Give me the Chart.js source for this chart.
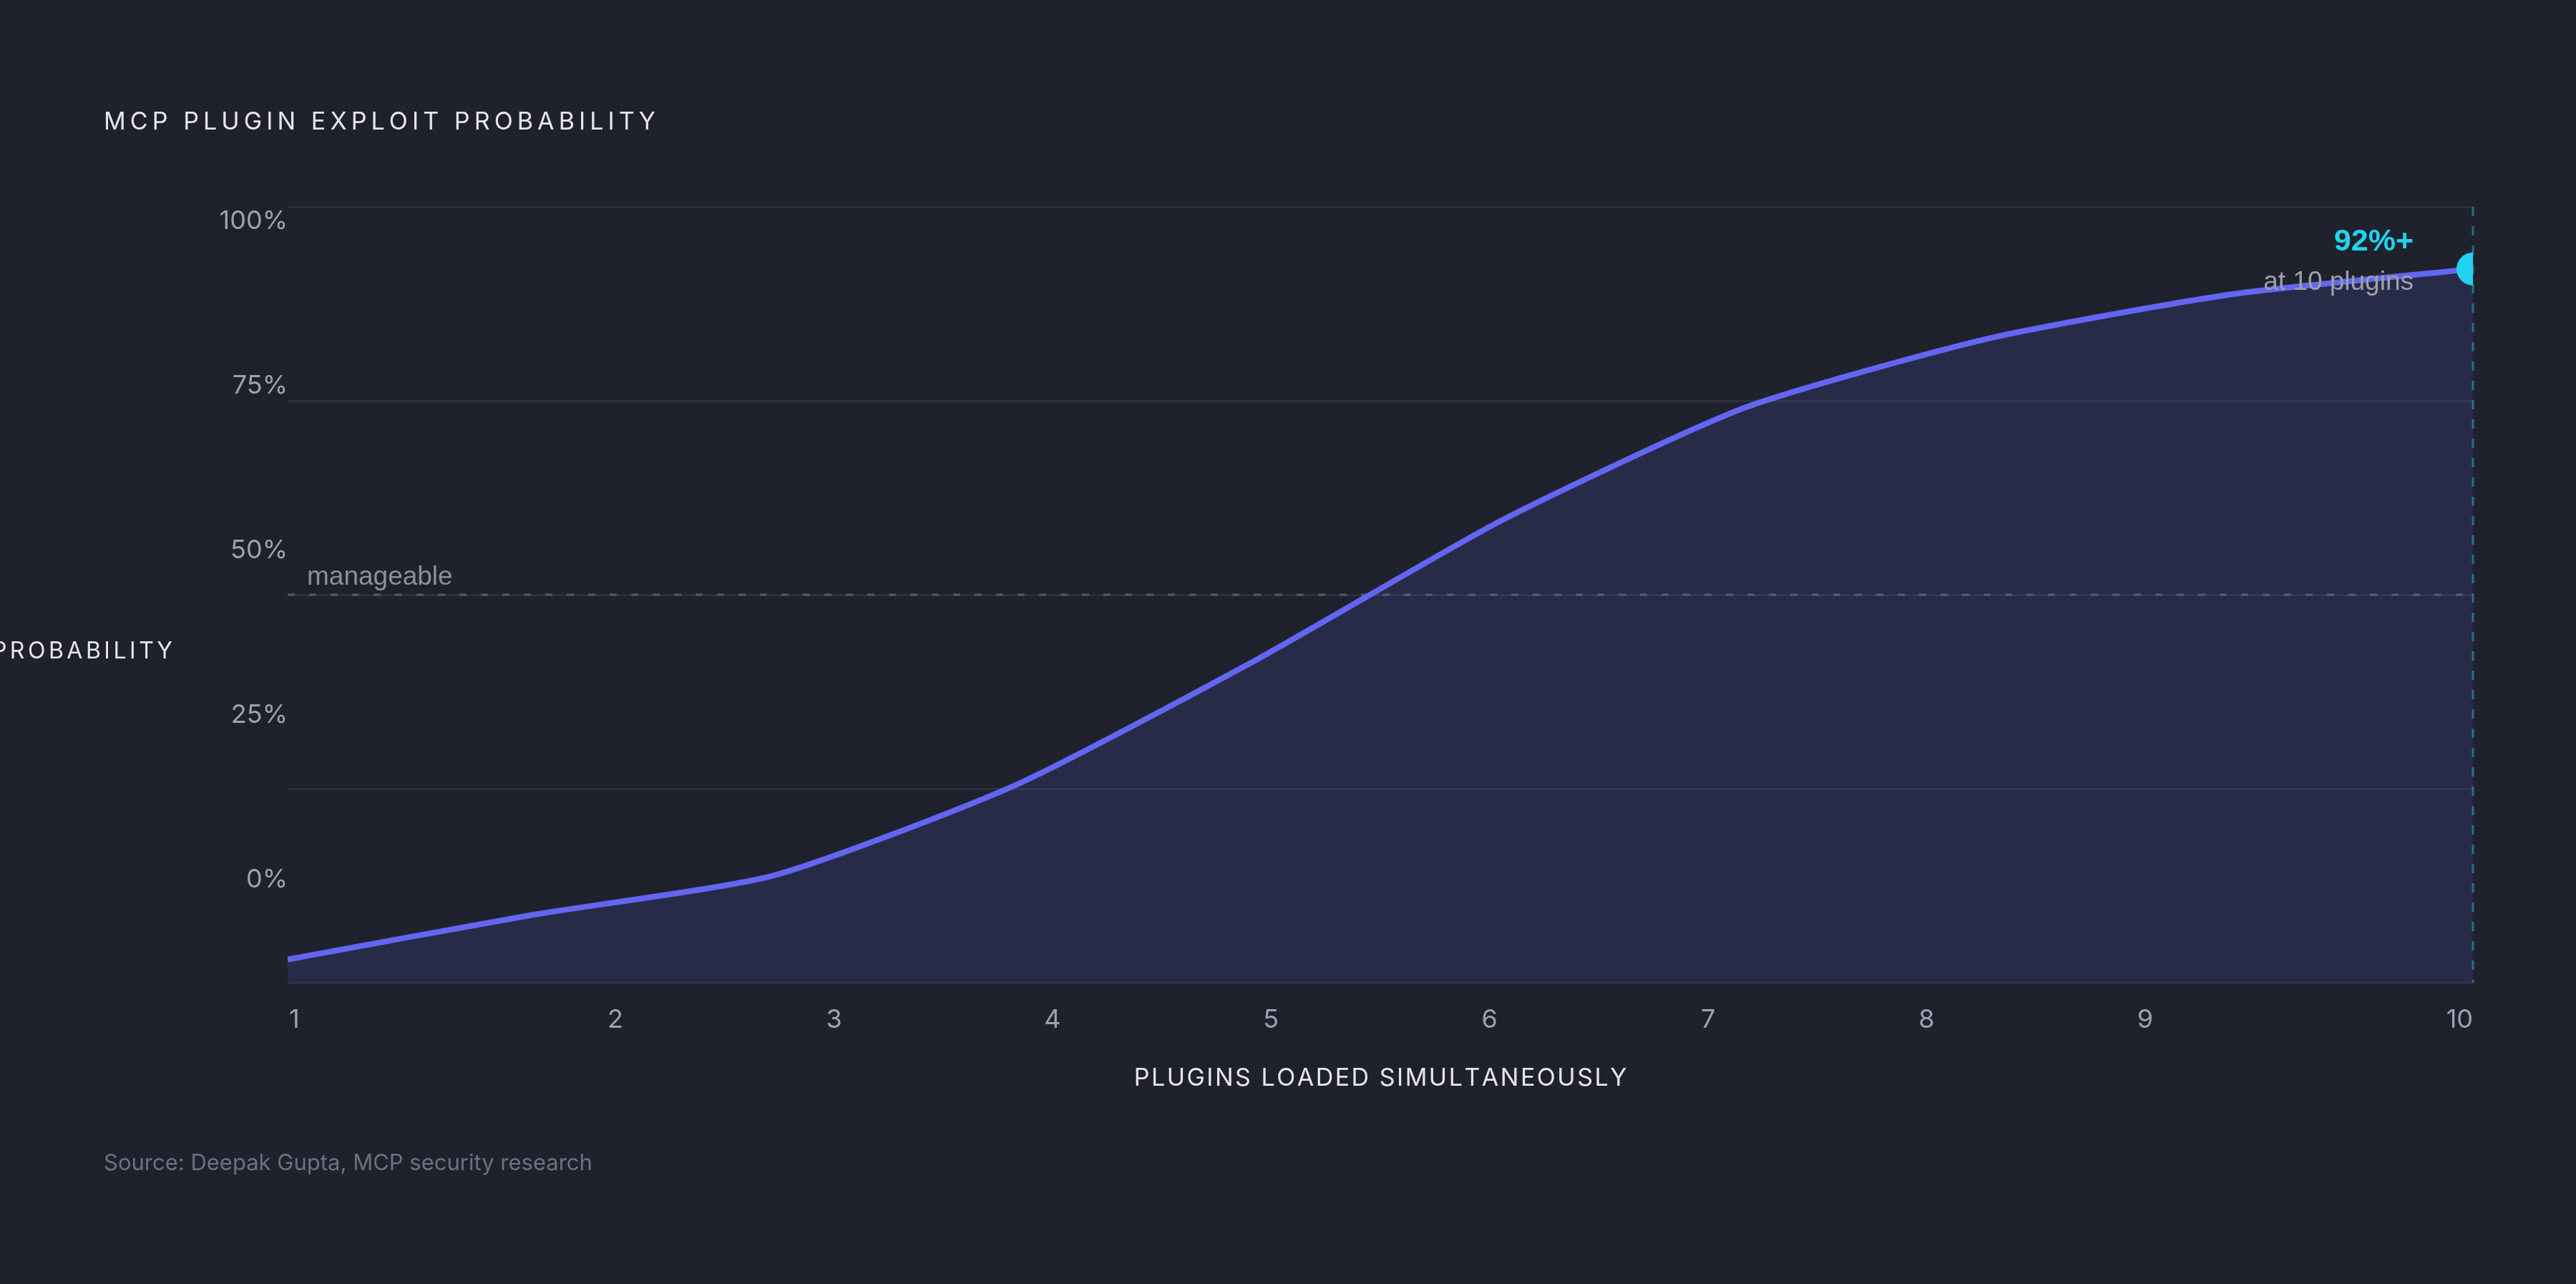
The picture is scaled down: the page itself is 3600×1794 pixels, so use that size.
<!DOCTYPE html>
<html lang="en">
<head>
<meta charset="UTF-8">
<title>MCP plugin exploit probability</title>
<script src="https://cdn.jsdelivr.net/npm/chart.js"></script>
<style>
  html, body { margin: 0; padding: 0; background: #1f222d; }
  #wrap { width: 3600px; height: 1794px; position: relative; }
</style>
</head>
<body>
<div id="wrap"><canvas id="chart"></canvas></div>
<script>
// data
const pluginCounts = [1, 2, 3, 4, 5, 6, 7, 8, 9, 10];
const exploitProbability = [3, 8.7, 13.8, 25.5, 41.8, 59.6, 74.1, 83.0, 88.7, 92];
const yTickLabels = ['100%', '75%', '50%', '25%', '0%'];
const xTickLabels = ['1', '2', '3', '4', '5', '6', '7', '8', '9', '10'];
const thresholdValue = 50;
const thresholdLabel = 'manageable';
const calloutValue = '92%+';
const calloutNote = 'at 10 plugins';
const chartTitle = 'MCP PLUGIN EXPLOIT PROBABILITY';
const xTitle = 'PLUGINS LOADED SIMULTANEOUSLY';
const yTitle = 'PROBABILITY';
const sourceNote = 'Source: Deepak Gupta, MCP security research';

const SANS = 'Inter, "Noto Sans", sans-serif';
const ARIAL = '"Liberation Sans", Arial, sans-serif';

// text with letter spacing, drawn char by char
function spaced(ctx, text, x, y, gap, align) {
  let w = 0;
  for (const ch of text) w += ctx.measureText(ch).width + gap;
  w -= gap;
  let cx = align === 'center' ? x - w / 2 : align === 'right' ? x - w : x;
  ctx.textAlign = 'left';
  for (const ch of text) {
    ctx.fillText(ch, cx, y);
    cx += ctx.measureText(ch).width + gap;
  }
}

const decor = {
  id: 'decor',
  beforeDatasetsDraw(chart) {
    const { ctx, chartArea: a, scales: { y } } = chart;
    ctx.save();
    // threshold line
    const ty = y.getPixelForValue(thresholdValue);
    ctx.strokeStyle = '#555a69';
    ctx.lineWidth = 3;
    ctx.setLineDash([10, 20]);
    ctx.beginPath(); ctx.moveTo(a.left, ty); ctx.lineTo(a.right, ty); ctx.stroke();
    ctx.setLineDash([]);
    ctx.font = '37px ' + ARIAL;
    ctx.fillStyle = '#8b909c';
    ctx.textAlign = 'left';
    ctx.textBaseline = 'alphabetic';
    ctx.fillText(thresholdLabel, a.left + 27, ty - 14);
    ctx.restore();
  },
  afterDatasetsDraw(chart) {
    const { ctx, chartArea: a, scales: { x, y } } = chart;
    const last = exploitProbability.length - 1;
    const px = x.getPixelForValue(pluginCounts[last]);
    const py = y.getPixelForValue(exploitProbability[last]);
    ctx.save();
    // vertical marker
    ctx.strokeStyle = 'rgba(34,211,238,0.45)';
    ctx.lineWidth = 3;
    ctx.setLineDash([13, 14]);
    ctx.beginPath(); ctx.moveTo(px, a.top); ctx.lineTo(px, a.bottom); ctx.stroke();
    ctx.setLineDash([]);
    // callout
    ctx.textAlign = 'right';
    ctx.textBaseline = 'alphabetic';
    ctx.font = 'bold 43px ' + ARIAL;
    ctx.fillStyle = '#22d3ee';
    ctx.fillText(calloutValue, px - 83, py - 26);
    ctx.font = '37px ' + ARIAL;
    ctx.fillStyle = '#9ca0a8';
    ctx.fillText(calloutNote, px - 83, py + 29);
    ctx.restore();
  },
  afterDraw(chart) {
    const { ctx, chartArea: a } = chart;
    ctx.save();
    ctx.textBaseline = 'middle';
    ctx.fillStyle = '#9ca3af';
    ctx.font = '36px ' + SANS;
    // y tick labels
    const h = a.bottom - a.top;
    yTickLabels.forEach((t, i) => {
      ctx.textAlign = 'right';
      ctx.fillText(t, a.left, a.top + h * (0.0185 + i * 0.2122));
    });
    // x tick labels
    const n = xTickLabels.length;
    const cell = (a.right - a.left) / n;
    xTickLabels.forEach((t, i) => {
      let tx = a.left + (i + 0.5) * cell;
      ctx.textAlign = 'center';
      if (i === 0) { ctx.textAlign = 'left'; tx = a.left + 2; }
      if (i === n - 1) { ctx.textAlign = 'right'; tx = a.right; }
      ctx.fillText(t, tx, a.bottom + 52);
    });
    // titles
    ctx.textBaseline = 'alphabetic';
    ctx.fillStyle = '#e5e7eb';
    ctx.font = '34px ' + SANS;
    spaced(ctx, chartTitle, 145, 181, 6.1, 'left');
    spaced(ctx, xTitle, (a.left + a.right) / 2, 1517, 2.5, 'center');
    ctx.font = '32px ' + SANS;
    spaced(ctx, yTitle, 241, 920, 4.5, 'right');
    ctx.fillStyle = '#6b7280';
    ctx.font = '31px ' + SANS;
    ctx.textAlign = 'left';
    ctx.fillText(sourceNote, 145, 1635);
    ctx.restore();
  }
};

new Chart(document.getElementById('chart'), {
  type: 'line',
  data: {
    datasets: [{
      data: pluginCounts.map((p, i) => ({ x: p, y: exploitProbability[i] })),
      borderColor: '#6366f1',
      borderWidth: 8,
      backgroundColor: 'rgba(99,102,241,0.14)',
      fill: 'start',
      tension: 0.2,
      clip: 0,
      pointRadius: c => c.dataIndex === exploitProbability.length - 1 ? 23 : 0,
      pointHoverRadius: c => c.dataIndex === exploitProbability.length - 1 ? 23 : 0,
      pointBackgroundColor: '#22d3ee',
      pointBorderWidth: 0
    }]
  },
  options: {
    responsive: true,
    maintainAspectRatio: false,
    animation: false,
    events: [],
    layout: { padding: { left: 402, right: 144, top: 289, bottom: 421 } },
    plugins: { legend: { display: false }, tooltip: { enabled: false } },
    scales: {
      x: {
        type: 'linear', min: 1, max: 10,
        grid: { display: false, drawTicks: false },
        border: { display: false },
        ticks: { display: false }
      },
      y: {
        min: 0, max: 100,
        ticks: { display: false, stepSize: 25 },
        grid: { color: '#2d303c', lineWidth: 3, drawTicks: false },
        border: { display: false }
      }
    }
  },
  plugins: [decor]
});
</script>
</body>
</html>
